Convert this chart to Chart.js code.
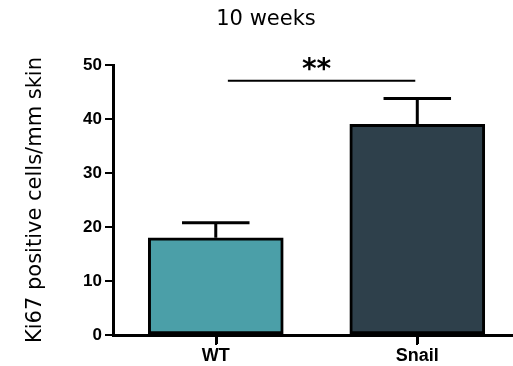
<!DOCTYPE html>
<html>
<head>
<meta charset="utf-8">
<script src="https://cdn.jsdelivr.net/npm/chart.js@4/dist/chart.umd.min.js"></script>
<style>
  html, body { margin: 0; padding: 0; background: #ffffff; }
  #wrap { width: 513px; height: 366px; }
</style>
</head>
<body>
<div id="wrap"><canvas id="c" width="513" height="366"></canvas></div>
<script>
// ---- data ----
const categories = ['WT', 'Snail'];
const means = [18, 39];
const sem = [2.8, 4.8];
const yTickValues = [0, 10, 20, 30, 40, 50];
const barColors = ['#4b9fa8', '#2e404b'];
const chartTitle = '10 weeks';
const yAxisTitle = 'Ki67 positive cells/mm skin';
const sigSpan = [0.06, 0.99];   // significance line, in category units
const sigLevel = 47.1;          // y value of the significance line
const sigText = '**';

const errorBars = {
  id: 'errorBars',
  afterDatasetsDraw(chart) {
    const ctx = chart.ctx;
    const ys = chart.scales.y;
    const meta = chart.getDatasetMeta(0);
    ctx.save();
    ctx.strokeStyle = '#000';
    ctx.lineWidth = 3;
    ctx.lineCap = 'butt';
    meta.data.forEach((el, i) => {
      const top = ys.getPixelForValue(means[i] + sem[i]);
      const half = el.width / 4;
      ctx.beginPath();
      ctx.moveTo(el.x, el.y);
      ctx.lineTo(el.x, top);
      ctx.moveTo(el.x - half, top);
      ctx.lineTo(el.x + half, top);
      ctx.stroke();
    });
    ctx.restore();
  }
};

// small tick marks below the x axis at each category position
const xTickMarks = {
  id: 'xTickMarks',
  afterDraw(chart) {
    const ctx = chart.ctx;
    const xs = chart.scales.x;
    const base = chart.chartArea.bottom;
    ctx.save();
    ctx.fillStyle = '#000';
    categories.forEach((c, i) => {
      const px = Math.round(xs.getPixelForValue(i));
      ctx.fillRect(px - 1, base, 3, 9);
    });
    ctx.restore();
  }
};

const significance = {
  id: 'significance',
  afterDatasetsDraw(chart) {
    const ctx = chart.ctx;
    const xs = chart.scales.x, ys = chart.scales.y;
    const x1 = xs.getPixelForValue(sigSpan[0]);
    const x2 = xs.getPixelForValue(sigSpan[1]);
    const y = ys.getPixelForValue(sigLevel);
    ctx.save();
    ctx.strokeStyle = '#000';
    ctx.lineWidth = 2;
    ctx.beginPath();
    ctx.moveTo(x1, y);
    ctx.lineTo(x2, y);
    ctx.stroke();
    ctx.fillStyle = '#000';
    ctx.font = 'bold 28px "DejaVu Sans"';
    ctx.textAlign = 'center';
    ctx.textBaseline = 'alphabetic';
    ctx.fillText(sigText, xs.getPixelForValue(0.5), y - 3);
    ctx.restore();
  }
};

new Chart(document.getElementById('c'), {
  type: 'bar',
  data: {
    datasets: [{
      data: categories.map((c, i) => ({ x: i, y: means[i] })),
      backgroundColor: barColors,
      borderColor: '#000',
      borderWidth: 3,
      borderSkipped: false,
      barThickness: 135
    }]
  },
  options: {
    responsive: false,
    animation: false,
    layout: { padding: { left: 20, right: 1, top: 0, bottom: 0 } },
    plugins: {
      legend: { display: false },
      tooltip: { enabled: false },
      title: {
        display: true,
        text: chartTitle,
        color: '#000',
        font: { family: 'DejaVu Sans', size: 21, weight: 'normal' },
        padding: { top: 7, bottom: 32.8 }
      }
    },
    scales: {
      x: {
        type: 'linear',
        offset: false,
        min: -0.51,
        max: 1.47,
        afterBuildTicks: (s) => { s.ticks = categories.map((c, i) => ({ value: i })); },
        afterFit: (s) => { s.height = 31; },
        ticks: {
          callback: (v) => categories[v],
          color: '#000',
          font: { family: 'Liberation Sans', size: 18, weight: 'bold' },
          padding: 0,
          maxRotation: 0,
          autoSkip: false
        },
        grid: { offset: false, drawOnChartArea: false, drawTicks: true, tickLength: 10, color: '#000', lineWidth: 2 },
        border: { display: true, color: '#000', width: 3 }
      },
      y: {
        min: 0,
        max: 50,
        afterBuildTicks: (s) => { s.ticks = yTickValues.map(v => ({ value: v })); },
        afterFit: (s) => { s.width = 93; },
        ticks: {
          color: '#000',
          font: { family: 'Liberation Sans', size: 17, weight: 'bold' },
          padding: 3
        },
        title: {
          display: true,
          text: yAxisTitle,
          color: '#000',
          font: { family: 'DejaVu Sans', size: 21, weight: 'normal' },
          padding: { top: 3, bottom: 0 }
        },
        grid: { drawOnChartArea: false, drawTicks: true, tickLength: 8, color: '#000', lineWidth: 2 },
        border: { display: true, color: '#000', width: 3 }
      }
    }
  },
  plugins: [errorBars, significance, xTickMarks]
});
</script>
</body>
</html>
